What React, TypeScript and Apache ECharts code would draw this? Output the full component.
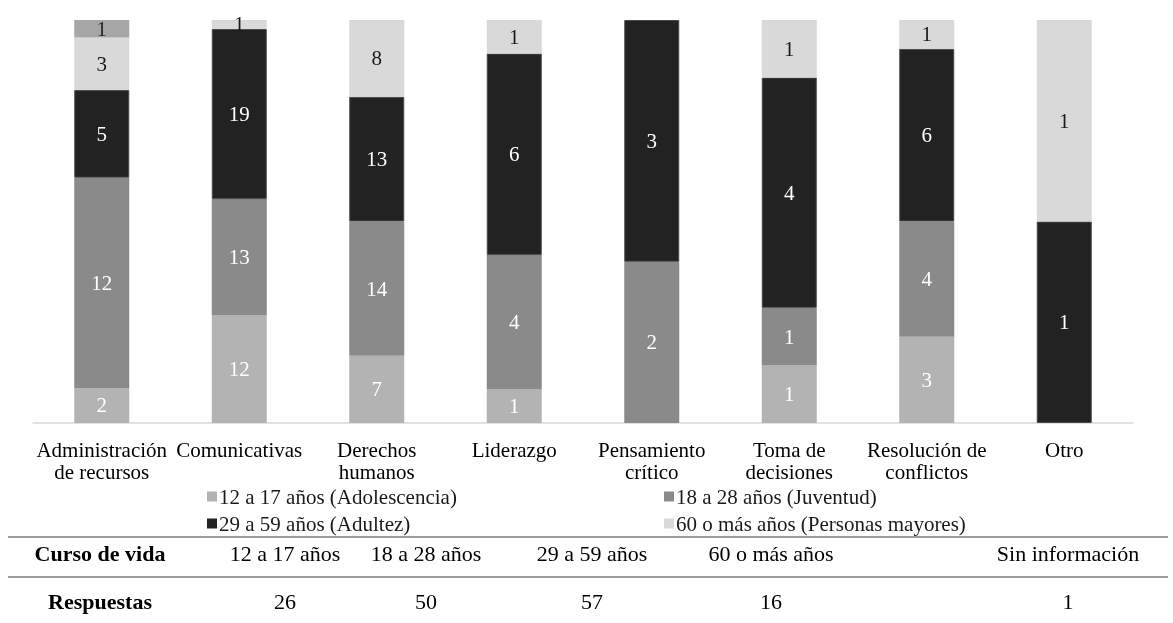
import React, { useEffect, useRef } from "react";
import * as echarts from "echarts";

const categories = [
  "Administración\nde recursos",
  "Comunicativas",
  "Derechos\nhumanos",
  "Liderazgo",
  "Pensamiento\ncrítico",
  "Toma de\ndecisiones",
  "Resolución de\nconflictos",
  "Otro",
];

const seriesNames = [
  "12 a 17 años (Adolescencia)",
  "18 a 28 años (Juventud)",
  "29 a 59 años (Adultez)",
  "60 o más años (Personas mayores)",
  "Sin información",
];

const adolescencia = [2, 12, 7, 1, 0, 1, 3, 0];
const juventud = [12, 13, 14, 4, 2, 1, 4, 0];
const adultez = [5, 19, 13, 6, 3, 4, 6, 1];
const mayores = [3, 1, 8, 1, 0, 1, 1, 1];
const sinInformacion = [1, 0, 0, 0, 0, 0, 0, 0];

const tableHeader = "Curso de vida";
const tableRowLabel = "Respuestas";
const lifeCourse = ["12 a 17 años", "18 a 28 años", "29 a 59 años", "60 o más años", "Sin información"];
const responses = [26, 50, 57, 16, 1];

const colors = ["#b3b3b3", "#8a8a8a", "#222222", "#d9d9d9", "#a6a6a6"];
const labelColors = ["#ffffff", "#ffffff", "#ffffff", "#1a1a1a", "#262626"];

const FONT = "Liberation Serif";

export default function App() {
  const ref = useRef<HTMLDivElement>(null);

  useEffect(() => {
    if (!ref.current) return;
    const chart = echarts.init(ref.current, undefined, { renderer: "svg" });
    const raw = [adolescencia, juventud, adultez, mayores, sinInformacion];
    const totals = categories.map((_, i) => raw.reduce((s, arr) => s + arr[i], 0));

    const series = raw.map((arr, si) => ({
      name: seriesNames[si],
      type: "bar",
      stack: "total",
      barWidth: "40%",
      data: arr.map((v, i) => (v / totals[i]) * 100),
      itemStyle: {
        color: colors[si],
        borderColor: si === 2 ? "#4a4a4a" : undefined,
        borderWidth: si === 2 ? 1 : 0,
      },
      label: {
        show: true,
        position: "inside",
        fontFamily: FONT,
        fontSize: 21,
        color: labelColors[si],
        formatter: (p: any) => (arr[p.dataIndex] ? String(arr[p.dataIndex]) : ""),
      },
      emphasis: { disabled: true },
    }));

    const colX = [285, 426, 592, 771, 1068];
    const headerX = 100;
    const row1Y = 553;
    const row2Y = 601;

    const textStyle = (text: string, bold: boolean) => {
      const s: any = {
        text,
        fontFamily: FONT,
        fontSize: 22,
        fill: "#000",
        textAlign: "center",
        textVerticalAlign: "middle",
      };
      if (bold) s.fontWeight = "bold";
      return s;
    };

    const graphics: any[] = [
      {
        type: "line",
        shape: { x1: 8, y1: 537, x2: 1168, y2: 537 },
        style: { stroke: "#7f7f7f", lineWidth: 1.5 },
      },
      {
        type: "line",
        shape: { x1: 8, y1: 577, x2: 1168, y2: 577 },
        style: { stroke: "#7f7f7f", lineWidth: 1.5 },
      },
      { type: "text", x: headerX, y: row1Y, style: textStyle(tableHeader, true) },
      { type: "text", x: headerX, y: row2Y, style: textStyle(tableRowLabel, true) },
    ];
    lifeCourse.forEach((t, i) => {
      graphics.push({ type: "text", x: colX[i], y: row1Y, style: textStyle(t, false) });
      graphics.push({ type: "text", x: colX[i], y: row2Y, style: textStyle(String(responses[i]), false) });
    });

    const legendCommon = {
      orient: "vertical",
      top: 481,
      itemWidth: 10,
      itemHeight: 10,
      itemGap: 6,
      icon: "rect",
      selectedMode: false,
      itemStyle: { borderWidth: 0 },
      textStyle: { fontFamily: FONT, fontSize: 21, color: "#1a1a1a", lineHeight: 20, padding: [0, 0, 0, -3] },
    };

    chart.setOption({
      animation: false,
      grid: { left: 33, width: 1100, top: 20, height: 403, containLabel: false },
      legend: [
        { ...legendCommon, left: 202, data: [seriesNames[0], seriesNames[2]] },
        { ...legendCommon, left: 659, data: [seriesNames[1], seriesNames[3]] },
      ],
      xAxis: {
        type: "category",
        data: categories,
        axisLine: { lineStyle: { color: "#d9d9d9", width: 1.5 } },
        axisTick: { show: false },
        axisLabel: {
          interval: 0,
          fontFamily: FONT,
          fontSize: 21,
          lineHeight: 22,
          color: "#000",
          margin: 16,
        },
      },
      yAxis: { type: "value", min: 0, max: 100, show: false },
      series,
      graphic: graphics,
    });

    return () => chart.dispose();
  }, []);

  return (
    <div
      ref={ref}
      style={{ position: "fixed", left: 0, top: 0, width: 1173, height: 623 }}
    />
  );
}
